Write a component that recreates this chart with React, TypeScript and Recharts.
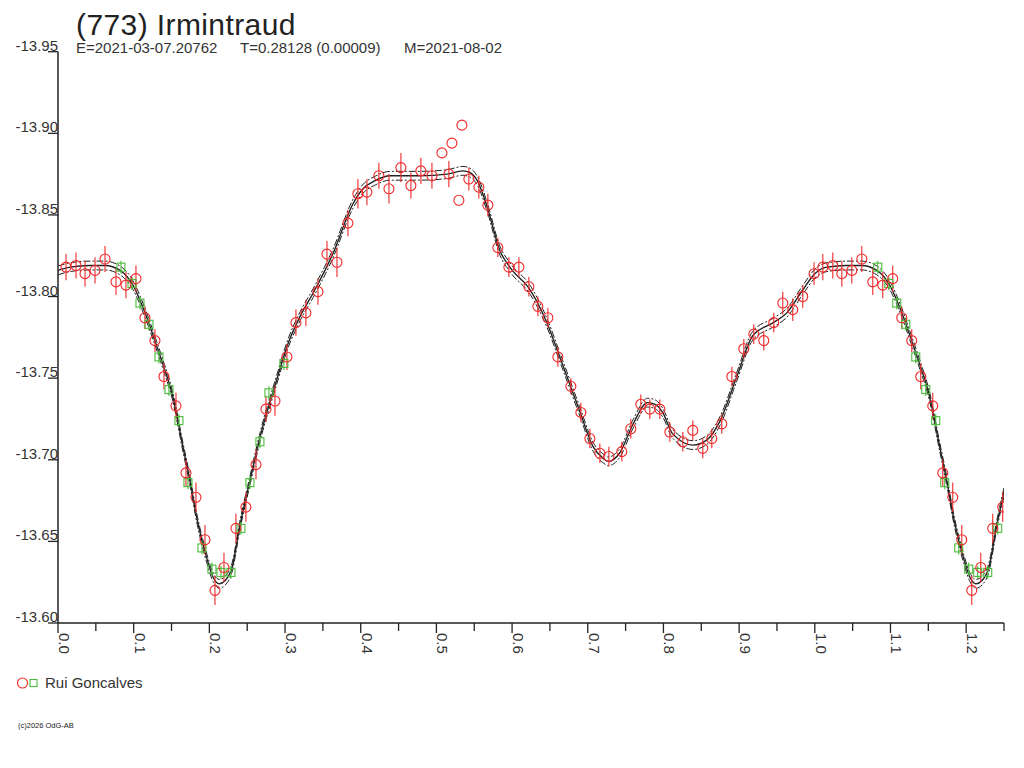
import React from "react";
import { ComposedChart, XAxis, YAxis, Line, Scatter, ErrorBar } from "recharts";

const FONT = "'Liberation Sans', Arial, Helvetica, sans-serif";

// [phase, magnitude, error]
const redPoints: [number, number, number][] = [
  [0.0106, -13.818, 0.008], [0.0238, -13.819, 0.008], [0.0357, -13.814, 0.008],
  [0.0489, -13.816, 0.008], [0.0621, -13.823, 0.008], [0.0766, -13.809, 0.008],
  [0.0898, -13.807, 0.008], [0.103, -13.811, 0.008], [0.1149, -13.787, 0.007],
  [0.1281, -13.773, 0.007], [0.14, -13.751, 0.008], [0.1559, -13.733, 0.008],
  [0.1691, -13.692, 0.008], [0.1823, -13.677, 0.009], [0.1942, -13.651, 0.009],
  [0.2074, -13.62, 0.009], [0.2193, -13.634, 0.009], [0.2351, -13.658, 0.009],
  [0.2483, -13.671, 0.009], [0.2616, -13.697, 0.009], [0.2748, -13.731, 0.008],
  [0.2867, -13.736, 0.009], [0.3025, -13.763, 0.008], [0.3144, -13.784, 0.008],
  [0.3276, -13.79, 0.008], [0.3435, -13.803, 0.008], [0.3554, -13.826, 0.008],
  [0.3686, -13.821, 0.009], [0.3831, -13.845, 0.008], [0.3963, -13.863, 0.009],
  [0.4082, -13.864, 0.008], [0.424, -13.874, 0.008], [0.4373, -13.866, 0.009],
  [0.4531, -13.879, 0.009], [0.4663, -13.868, 0.008], [0.4795, -13.877, 0.008],
  [0.4941, -13.874, 0.008], [0.5165, -13.875, 0.008], [0.5429, -13.872, 0.007],
  [0.5561, -13.867, 0.007], [0.568, -13.856, 0.007], [0.5812, -13.83, 0.006],
  [0.5958, -13.818, 0.006], [0.609, -13.818, 0.006], [0.6222, -13.806, 0.006],
  [0.6341, -13.794, 0.006], [0.6473, -13.787, 0.006], [0.6605, -13.763, 0.006],
  [0.6777, -13.745, 0.005], [0.6909, -13.729, 0.006], [0.7028, -13.713, 0.006],
  [0.716, -13.704, 0.006], [0.7279, -13.702, 0.006], [0.745, -13.705, 0.006],
  [0.7569, -13.719, 0.006], [0.7701, -13.734, 0.006], [0.782, -13.731, 0.006],
  [0.7952, -13.731, 0.006], [0.8085, -13.717, 0.006], [0.8256, -13.711, 0.006],
  [0.8388, -13.718, 0.006], [0.852, -13.707, 0.006], [0.8639, -13.713, 0.006],
  [0.8771, -13.722, 0.006], [0.8904, -13.751, 0.006], [0.9062, -13.768, 0.006],
  [0.9194, -13.777, 0.006], [0.9326, -13.773, 0.006], [0.9458, -13.784, 0.006],
  [0.9577, -13.796, 0.007], [0.9709, -13.792, 0.007], [0.9841, -13.8, 0.007],
  [0.999, -13.814, 0.007],
];

// measurements drawn without error bars
const redOutliers: [number, number, number][] = [
  [0.5073, -13.888, 0], [0.5205, -13.894, 0], [0.5337, -13.905, 0], [0.5297, -13.859, 0],
];

const greenPoints: [number, number, number][] = [
  [0.0832, -13.818, 0.004], [0.0978, -13.808, 0.004], [0.1083, -13.796, 0.004],
  [0.1202, -13.783, 0.004], [0.1334, -13.763, 0.004], [0.1466, -13.743, 0.004],
  [0.1598, -13.724, 0.004], [0.1717, -13.686, 0.004], [0.1902, -13.646, 0.004],
  [0.2034, -13.633, 0.004], [0.2153, -13.631, 0.004], [0.2285, -13.631, 0.004],
  [0.2417, -13.658, 0.004], [0.2536, -13.686, 0.004], [0.2668, -13.711, 0.004],
  [0.2787, -13.741, 0.004], [0.2985, -13.759, 0.004],
];

// fitted curve [phase, magnitude]
const fitCurve: [number, number][] = [
  [0.0, -13.816], [0.016, -13.818], [0.042, -13.819], [0.062, -13.819], [0.082, -13.816],
  [0.099, -13.807], [0.115, -13.79], [0.128, -13.773], [0.139, -13.758], [0.151, -13.74],
  [0.165, -13.708], [0.174, -13.688], [0.184, -13.663], [0.197, -13.639], [0.205, -13.628],
  [0.213, -13.624], [0.221, -13.626], [0.23, -13.634], [0.24, -13.659], [0.254, -13.688],
  [0.267, -13.714], [0.289, -13.749], [0.303, -13.77], [0.32, -13.788], [0.337, -13.802],
  [0.363, -13.826], [0.39, -13.857], [0.403, -13.866], [0.419, -13.871], [0.439, -13.874],
  [0.478, -13.874], [0.514, -13.875], [0.535, -13.877], [0.544, -13.876], [0.554, -13.871],
  [0.567, -13.855], [0.584, -13.828], [0.597, -13.818], [0.624, -13.804], [0.646, -13.784],
  [0.663, -13.763], [0.69, -13.729], [0.707, -13.708], [0.72, -13.701], [0.727, -13.699],
  [0.742, -13.704], [0.76, -13.722], [0.779, -13.735], [0.789, -13.734], [0.799, -13.729],
  [0.812, -13.716], [0.839, -13.709], [0.857, -13.712], [0.875, -13.724], [0.897, -13.751],
  [0.918, -13.776], [0.945, -13.784], [0.963, -13.79], [0.984, -13.804], [1.0, -13.814],
];

// half-width of the dash-dot uncertainty envelope (mag)
const envelopeHalfWidth = 0.0027;

const xTicks = [0, 0.05, 0.1, 0.15, 0.2, 0.25, 0.3, 0.35, 0.4, 0.45, 0.5, 0.55, 0.6,
  0.65, 0.7, 0.75, 0.8, 0.85, 0.9, 0.95, 1.0, 1.05, 1.1, 1.15, 1.2, 1.25];
const yTicks = [-13.95, -13.9, -13.85, -13.8, -13.75, -13.7, -13.65, -13.6];

const title = "(773) Irmintraud";
const epochText = "E=2021-03-07.20762";
const periodText = "T=0.28128 (0.00009)";
const midText = "M=2021-08-02";
const observer = "Rui Goncalves";
const copyright = "(c)2026 OdG-AB";

const RED = "#f02828";
const GREEN = "#4cbb3c";
const INK = "#222222";

// phased data are repeated past phase 1.0 up to 1.25
const wrapPts = (pts: [number, number, number][]) =>
  [...pts, ...pts.filter((p) => p[0] <= 0.25).map((p) => [p[0] + 1, p[1], p[2]] as [number, number, number])]
    .map(([phase, mag, err]) => ({ phase, mag, err }));

const redData = wrapPts(redPoints);
const outlierData = wrapPts(redOutliers);
const greenData = wrapPts(greenPoints);

const curveRows = [...fitCurve, ...fitCurve.filter((p) => p[0] > 0 && p[0] <= 0.26).map((p) => [p[0] + 1, p[1]] as [number, number])];
const curveData = curveRows.map(([phase, mag]) => ({
  phase,
  mag,
  upper: mag - envelopeHalfWidth,
  lower: mag + envelopeHalfWidth,
}));

const XTick = (props: any) => {
  const { x, y, payload } = props;
  const v = payload.value as number;
  const major = Math.round(v * 100) % 10 === 0;
  return (
    <g>
      <line x1={x} y1={y} x2={x} y2={y + (major ? 10 : 8)} stroke={INK} strokeWidth={1.3} />
      {major && (
        <text
          x={x + 1}
          y={y + 10}
          transform={`rotate(90, ${x + 1}, ${y + 10})`}
          fontFamily={FONT}
          fontSize={15}
          fill="#333"
          textAnchor="start"
        >
          {v.toFixed(1)}
        </text>
      )}
    </g>
  );
};

const YTick = (props: any) => {
  const { x, y, payload } = props;
  const v = payload.value as number;
  return (
    <g>
      <line x1={x - 10} y1={y} x2={x} y2={y} stroke={INK} strokeWidth={1.3} />
      <text x={x} y={y - 1} textAnchor="end" fontFamily={FONT} fontSize={15} fill="#333">
        {v.toFixed(2)}
      </text>
    </g>
  );
};

const RedCircle = (props: any) => {
  const { cx, cy } = props;
  if (cx == null || cy == null) return null;
  return <circle cx={cx} cy={cy} r={5} fill="none" stroke={RED} strokeWidth={1.1} />;
};

const GreenSquare = (props: any) => {
  const { cx, cy } = props;
  if (cx == null || cy == null) return null;
  return <rect x={cx - 4} y={cy - 4} width={8} height={8} fill="none" stroke={GREEN} strokeWidth={1.1} />;
};

export default function App() {
  return (
    <div style={{ position: "absolute", left: 0, top: 0, width: 1024, height: 768, background: "#fff" }}>
      <ComposedChart
        width={1024}
        height={768}
        margin={{ top: 51.7, right: 20, bottom: 105, left: 0 }}
      >
        <XAxis
          type="number"
          dataKey="phase"
          domain={[0, 1.25]}
          ticks={xTicks}
          interval={0}
          allowDataOverflow
          height={40}
          tickSize={0}
          tickMargin={0}
          tickLine={false}
          axisLine={{ stroke: INK, strokeWidth: 1.5 }}
          tick={<XTick />}
        />
        <YAxis
          type="number"
          dataKey="mag"
          domain={[-13.95, -13.6]}
          reversed
          ticks={yTicks}
          interval={0}
          allowDataOverflow
          width={58}
          tickSize={0}
          tickMargin={0}
          tickLine={false}
          axisLine={{ stroke: INK, strokeWidth: 1.5 }}
          tick={<YTick />}
        />
        <Line
          data={curveData}
          dataKey="upper"
          type="monotone"
          dot={false}
          stroke={INK}
          strokeWidth={1}
          strokeDasharray="7 2 2 2"
          isAnimationActive={false}
        />
        <Line
          data={curveData}
          dataKey="lower"
          type="monotone"
          dot={false}
          stroke={INK}
          strokeWidth={1}
          strokeDasharray="7 2 2 2"
          isAnimationActive={false}
        />
        <Line
          data={curveData}
          dataKey="mag"
          type="monotone"
          dot={false}
          stroke={INK}
          strokeWidth={1.4}
          isAnimationActive={false}
        />
        <Scatter data={greenData} dataKey="mag" shape={<GreenSquare />} isAnimationActive={false}>
          <ErrorBar dataKey="err" direction="y" width={0} stroke={GREEN} strokeWidth={1.1} />
        </Scatter>
        <Scatter data={redData} dataKey="mag" shape={<RedCircle />} isAnimationActive={false}>
          <ErrorBar dataKey="err" direction="y" width={0} stroke={RED} strokeWidth={1.1} />
        </Scatter>
        <Scatter data={outlierData} dataKey="mag" shape={<RedCircle />} isAnimationActive={false} />
      </ComposedChart>
      <svg
        width={1024}
        height={768}
        style={{ position: "absolute", left: 0, top: 0, pointerEvents: "none" }}
      >
        <text x={76} y={35} fontFamily={FONT} fontSize={30} letterSpacing={0.4} fill={INK}>{title}</text>
        <text x={76} y={53} fontFamily={FONT} fontSize={15} fill="#333">{epochText}</text>
        <text x={240} y={53} fontFamily={FONT} fontSize={15} fill="#333">{periodText}</text>
        <text x={404} y={53} fontFamily={FONT} fontSize={15} fill="#333">{midText}</text>
        <circle cx={22.5} cy={683} r={5} fill="none" stroke={RED} strokeWidth={1.1} />
        <rect x={30} y={679.5} width={7} height={7} fill="none" stroke={GREEN} strokeWidth={1.1} />
        <text x={45} y={688} fontFamily={FONT} fontSize={15} fill="#333">{observer}</text>
        <text x={18} y={728} fontFamily={FONT} fontSize={7.5} fill={INK}>{copyright}</text>
      </svg>
    </div>
  );
}
